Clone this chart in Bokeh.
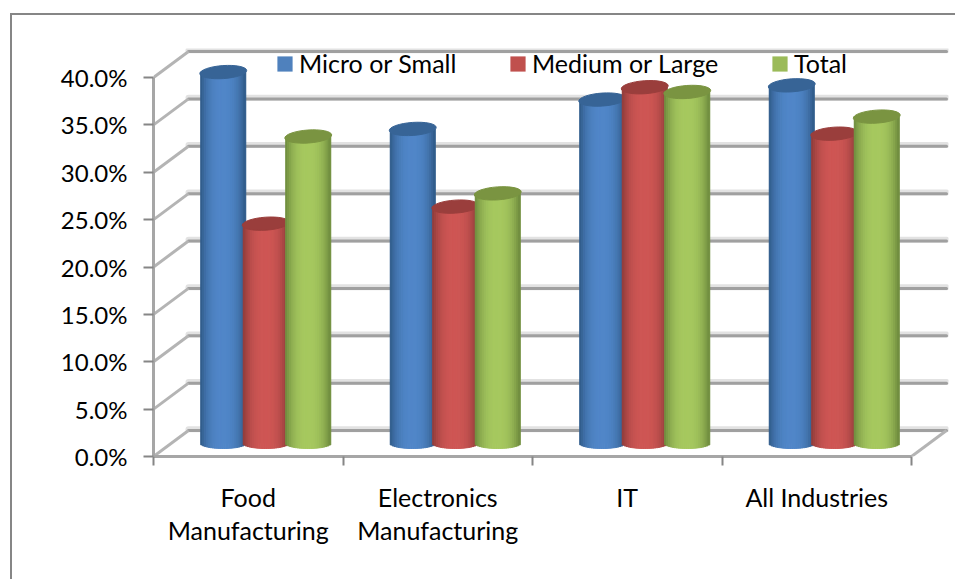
from bokeh.plotting import figure
from bokeh.embed import file_html
from bokeh.resources import INLINE
from bokeh.models import FixedTicker, PrintfTickFormatter, Legend, LegendItem

categories = ["Food\nManufacturing", "Electronics\nManufacturing", "IT", "All Industries"]
micro_or_small = [39.2, 33.2, 36.3, 37.8]
medium_or_large = [23.2, 25.0, 37.6, 32.7]
total = [32.4, 26.4, 37.1, 34.5]
y_ticks = [0, 5, 10, 15, 20, 25, 30, 35, 40]

PX_X = 189.5   # pixels per category
PX_Y = 9.475   # pixels per percent
FRAME_W, FRAME_H = 795, 408

p = figure(width=945, height=566, output_backend="svg", toolbar_location=None,
           x_range=(0, FRAME_W / PX_X), y_range=(0, FRAME_H / PX_Y),
           min_border_left=141, min_border_right=9, min_border_top=33, min_border_bottom=125,
           margin=(15, 0, 0, 12),
           styles={"box-shadow": "-2px -2px 0 #868686"})
p.outline_line_color = None
p.grid.visible = False
p.background_fill_color = "white"

# 3-D box: depth of wall in data units
DX, DY = 35 / PX_X, 26 / PX_Y
n_cat = len(categories)
for color, width in (("#e2e2e2", 6), ("#a0a0a0", 3)):
    p.segment([DX] * len(y_ticks), [v + DY + (0.12 if width == 6 else 0) for v in y_ticks],
              [n_cat + DX] * len(y_ticks), [v + DY + (0.12 if width == 6 else 0) for v in y_ticks],
              line_color=color, line_width=width, line_cap="round")
p.segment([0] * len(y_ticks), y_ticks, [DX] * len(y_ticks), [v + DY for v in y_ticks],
          line_color="#b4b4b4", line_width=3)
p.segment([n_cat], [0], [n_cat + DX], [DY], line_color="#b4b4b4", line_width=3)

# cylinders
BAR_W = 45 / PX_X
BAR_STEP = 42.5 / PX_X
BASE_DX, BASE_DY = 17.5 / PX_X, 13 / PX_Y
ELL_H = 13 / PX_Y
BOTTOM_H = 10 / PX_Y
N = 24


def mix(a, b, t):
    return "#%02x%02x%02x" % tuple(round(a[i] + (b[i] - a[i]) * t) for i in range(3))


series = [
    ("Micro or Small", micro_or_small, (0x50, 0x86, 0xc8), (0x2f, 0x59, 0x85), "#376496", "#4f81bd", 122),
    ("Medium or Large", medium_or_large, (0xce, 0x56, 0x54), (0x8c, 0x3b, 0x39), "#9a3e3c", "#c0504d", 355),
    ("Total", total, (0xa6, 0xc8, 0x5f), (0x6c, 0x88, 0x3c), "#7a9441", "#9bbb59", 617),
]

for s, (name, vals, light, dark, top_col, leg_col, leg_x) in enumerate(series):
    L, R, T, B, C = [], [], [], [], []
    cx_list, cy_list = [], []
    for i, v in enumerate(vals):
        cx = i + 0.5 + BASE_DX + (s - 1) * BAR_STEP
        cx_list.append(cx)
        cy_list.append(v + BASE_DY)
        for k in range(N):
            t0 = -1 + 2 * k / N
            t1 = t0 + 2 / N
            tm = (t0 + t1) / 2
            L.append(cx + t0 * BAR_W / 2)
            R.append(cx + t1 * BAR_W / 2)
            T.append(v + BASE_DY)
            B.append(BASE_DY - BOTTOM_H / 2 * (1 - tm * tm) ** 0.5)
            shade = 1 - abs(tm) ** 2.6
            C.append(mix(dark, light, shade))
    base = p.quad(left=[c - BAR_W / 2 for c in cx_list], right=[c + BAR_W / 2 for c in cx_list],
                  top=cy_list, bottom=[BASE_DY] * len(vals), fill_color=leg_col, line_color=None)
    p.quad(left=L, right=R, top=T, bottom=B, fill_color=C, line_color=C, line_width=1)
    p.ellipse(x=cx_list, y=cy_list, width=(BAR_W + 2 / PX_X), height=ELL_H, angle=0.07,
              fill_color=top_col, line_color=top_col)
    legend = Legend(items=[LegendItem(label=name, renderers=[base])],
                    location=(leg_x, FRAME_H - 30), orientation="horizontal",
                    padding=0, margin=0, spacing=0, label_standoff=5,
                    glyph_width=19, glyph_height=19, label_height=26,
                    background_fill_alpha=0, border_line_color=None,
                    label_text_font="Lato", label_text_font_size="25px", label_text_color="#000000")
    p.add_layout(legend, "center")

# axes
p.yaxis.ticker = FixedTicker(ticks=y_ticks)
p.yaxis.formatter = PrintfTickFormatter(format="%.1f%%")
p.yaxis.bounds = (0, 40)
p.yaxis.major_tick_in = 0
p.yaxis.major_tick_out = 10
p.yaxis.minor_tick_line_color = None
p.yaxis.major_label_standoff = 16

centers = [i + 0.5 for i in range(n_cat)]
p.xaxis.ticker = FixedTicker(ticks=centers, minor_ticks=list(range(n_cat + 1)))
p.xaxis.major_label_overrides = dict(zip(centers, categories))
p.xaxis.bounds = (0, n_cat)
p.xaxis.major_tick_line_color = None
p.xaxis.minor_tick_in = 0
p.xaxis.minor_tick_out = 9
p.xaxis.minor_tick_line_color = "#868686"
p.xaxis.minor_tick_line_width = 2
p.xaxis.major_label_standoff = 16
p.xaxis.major_label_orientation = "horizontal"

for ax in (p.xaxis[0], p.yaxis[0]):
    ax.axis_line_color = "#a6a6a6"
    ax.axis_line_width = 3
    ax.major_label_text_color = "#000000"
    ax.major_label_text_font = "Lato"
p.xaxis.major_label_text_font_size = "25px"
p.xaxis.major_label_text_line_height = 1.1
p.yaxis.major_label_text_font_size = "24px"
p.yaxis.major_tick_line_color = "#868686"
p.yaxis.major_tick_line_width = 2

open("out.html", "w").write(file_html(p, INLINE))
